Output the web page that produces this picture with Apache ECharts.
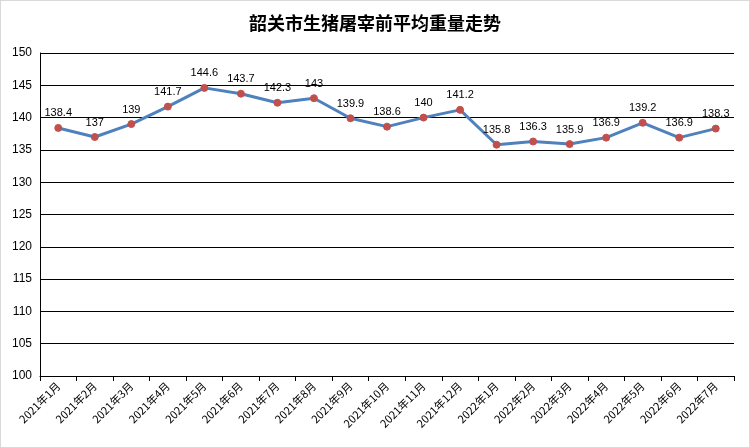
<!DOCTYPE html><html><head><meta charset="utf-8"><script src="https://cdn.jsdelivr.net/npm/echarts@6/dist/echarts.min.js"></script>
<style>body{margin:0}#c{width:748px;height:446px;border:1px solid #d9d9d9}</style></head><body><div id="c"></div><script>
const categories=['2021年1月','2021年2月','2021年3月','2021年4月','2021年5月','2021年6月','2021年7月','2021年8月','2021年9月','2021年10月','2021年11月','2021年12月','2022年1月','2022年2月','2022年3月','2022年4月','2022年5月','2022年6月','2022年7月'];
const values=[138.4,137,139,141.7,144.6,143.7,142.3,143,139.9,138.6,140,141.2,135.8,136.3,135.9,136.9,139.2,136.9,138.3];
const c=echarts.init(document.getElementById('c'));
c.setOption({animation:false,
title:{text:'韶关市生猪屠宰前平均重量走势',left:'center',top:8,textStyle:{fontSize:18,fontWeight:'bold',color:'#000',fontFamily:'Noto Sans CJK SC'}},
grid:{left:39,right:15,top:52,bottom:71},
xAxis:{type:'category',data:categories,boundaryGap:true,axisLine:{lineStyle:{color:'#000'}},axisTick:{show:true,lineStyle:{color:'#000'}},axisLabel:{rotate:45,color:'#000',fontSize:11,interval:0,fontFamily:'Noto Sans CJK SC'}},
yAxis:{type:'value',min:100,max:150,interval:5,axisLine:{show:true,lineStyle:{color:'#000'}},splitLine:{lineStyle:{color:'#000'}},axisLabel:{color:'#000',fontSize:12}},
series:[{type:'line',data:values,symbol:'circle',symbolSize:7,itemStyle:{color:'#c0504d',borderColor:'#c0504d'},lineStyle:{color:'#4f81bd',width:3},label:{show:true,position:'top',color:'#000',fontSize:11}}]});
</script></body></html>
